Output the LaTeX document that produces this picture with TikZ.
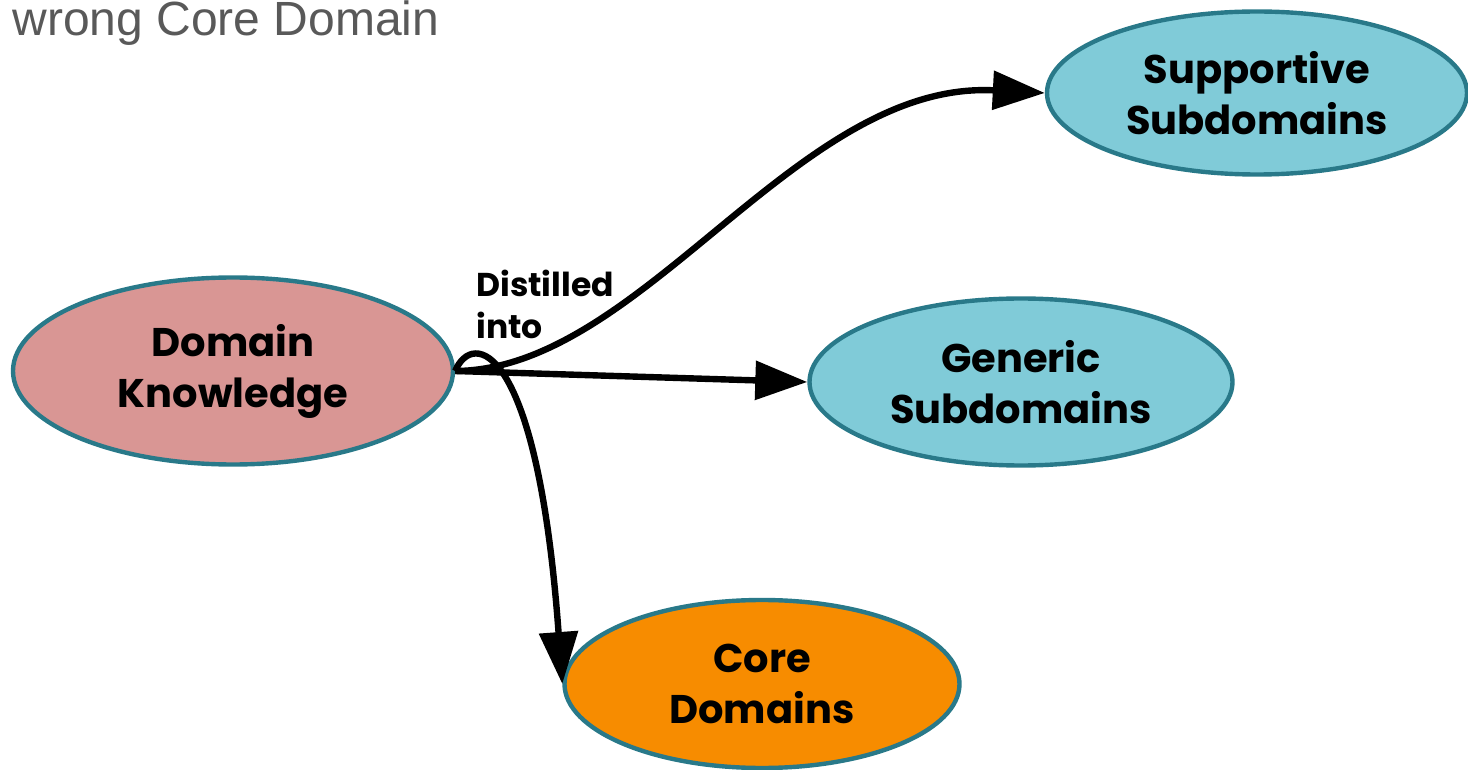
\documentclass[tikz,border=0pt]{standalone}
\usepackage{fontspec}
\setmainfont{Poppins}
\newfontfamily\titlefont{Liberation Sans}
\usetikzlibrary{arrows.meta, shapes.geometric}
\definecolor{knowfill}{RGB}{217,150,148}
\definecolor{subfill}{RGB}{128,203,216}
\definecolor{corefill}{RGB}{247,140,0}
\definecolor{ringcol}{RGB}{41,121,137}
\definecolor{titlegray}{RGB}{89,89,89}
\tikzset{
  dom/.style={ellipse, draw=ringcol, line width=2.2pt, align=center, inner sep=0pt,
              font=\fontsize{20}{25.5}\selectfont\bfseries},
  know/.style={dom, fill=knowfill},
  subdom/.style={dom, fill=subfill},
  coredom/.style={dom, fill=corefill},
  lbl/.style={anchor=north west, align=left, inner sep=0pt,
              font=\fontsize{16.5}{21}\selectfont\bfseries},
  ttl/.style={anchor=base west, inner sep=0pt, text=titlegray,
              font=\titlefont\fontsize{24}{28}\selectfont},
  link/.style={-{Triangle[length=26pt, width=19pt]}, line width=3.2pt}
}

\begin{document}
\begin{tikzpicture}[x=0.5pt, y=-0.5pt]
\useasboundingbox (0,0) rectangle (1468,770);
\node[ttl] (title) at (12,36) {wrong Core Domain};
\node[know, minimum width=220pt, minimum height=93.5pt] (dk) at (233,371) {Domain\\Knowledge};
\node[subdom, minimum width=210pt, minimum height=81.5pt] (sup) at (1257,93) {Supportive\\Subdomains};
\node[subdom, minimum width=211.5pt, minimum height=83.5pt] (gen) at (1021,382) {Generic\\Subdomains};
\node[coredom, minimum width=197.5pt, minimum height=84pt] (core) at (762,684) {Core\\Domains};
\node[lbl] (dist) at (476,270) {Distilled\\into};
% connectors
\draw[link] (dk.east) .. controls +(187,-1) and +(-248,-13) .. (sup.west);
\draw[link] (dk.east) -- (gen.west);
\draw[link] (dk.east) .. controls +(17,-41) and +(-25,-344) .. (core.west);
\end{tikzpicture}
\end{document}
